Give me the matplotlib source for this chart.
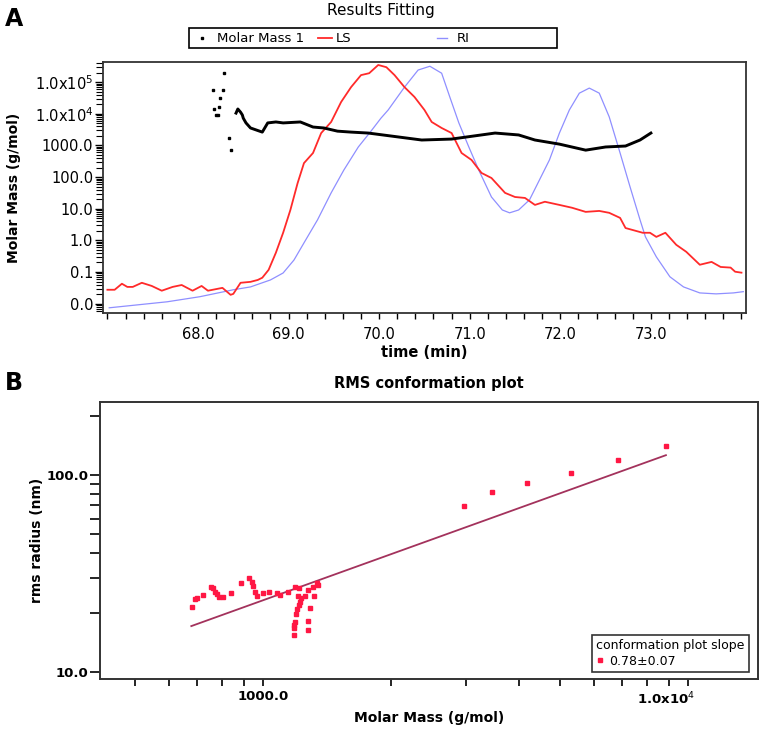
import numpy as np
import matplotlib
matplotlib.use("Agg")
import matplotlib.pyplot as plt
from matplotlib.lines import Line2D
from matplotlib.patches import Rectangle
from matplotlib.ticker import FixedLocator, FixedFormatter, LogLocator, MultipleLocator, NullFormatter
from matplotlib.transforms import ScaledTranslation

plt.rcParams["font.family"] = ["DejaVu Sans"]

# --- Panel A: results fitting (values are log10 of the plotted quantity) ---
ls_t = [67.0, 67.08, 67.16, 67.22, 67.28, 67.38, 67.49, 67.6, 67.72, 67.82, 67.94, 68.04,
        68.11, 68.27, 68.36, 68.39, 68.47, 68.58, 68.66, 68.71, 68.78, 68.86, 68.94, 69.02,
        69.1, 69.17, 69.27, 69.36, 69.47, 69.58, 69.69, 69.8, 69.89, 69.99, 70.08, 70.17,
        70.28, 70.39, 70.5, 70.58, 70.69, 70.8, 70.91, 71.02, 71.13, 71.24, 71.39, 71.5,
        71.61, 71.72, 71.83, 71.99, 72.13, 72.28, 72.43, 72.54, 72.66, 72.72, 72.91, 72.99,
        73.06, 73.16, 73.28, 73.39, 73.54, 73.67, 73.77, 73.88, 73.93, 74.0]
ls_log = [-1.56, -1.56, -1.37, -1.47, -1.47, -1.34, -1.44, -1.59, -1.47, -1.41, -1.59, -1.44,
          -1.59, -1.50, -1.72, -1.69, -1.34, -1.31, -1.25, -1.18, -0.93, -0.39, 0.24, 0.96,
          1.81, 2.44, 2.76, 3.39, 3.74, 4.37, 4.84, 5.22, 5.28, 5.54, 5.47, 5.22,
          4.84, 4.53, 4.12, 3.74, 3.55, 3.39, 2.76, 2.54, 2.13, 1.97, 1.5, 1.37,
          1.34, 1.12, 1.22, 1.12, 1.03, 0.9, 0.93, 0.87, 0.71, 0.39, 0.24, 0.24,
          0.11, 0.24, -0.14, -0.36, -0.77, -0.68, -0.84, -0.86, -0.99, -1.02]

ri_t = [67.02, 67.66, 68.02, 68.39, 68.58, 68.8, 68.94, 69.06, 69.17, 69.32, 69.47, 69.61,
        69.77, 69.91, 70.02, 70.1, 70.28, 70.43, 70.56, 70.69, 70.78, 70.88, 70.99, 71.1,
        71.24, 71.36, 71.44, 71.54, 71.66, 71.77, 71.88, 71.99, 72.1, 72.21, 72.32, 72.43,
        72.54, 72.66, 72.77, 72.88, 72.94, 73.06, 73.21, 73.36, 73.54, 73.72, 73.91, 74.02]
ri_log = [-2.13, -1.94, -1.78, -1.56, -1.47, -1.25, -1.03, -0.62, -0.08, 0.65, 1.5, 2.22,
          2.95, 3.45, 3.86, 4.12, 4.84, 5.38, 5.5, 5.28, 4.53, 3.71, 2.95, 2.22,
          1.37, 0.96, 0.87, 0.96, 1.28, 1.91, 2.54, 3.39, 4.12, 4.65, 4.81, 4.65,
          3.9, 2.76, 1.69, 0.65, 0.11, -0.52, -1.15, -1.47, -1.66, -1.69, -1.66, -1.62]

mm_t = [68.42, 68.44, 68.47, 68.49, 68.50, 68.53, 68.58, 68.71, 68.77, 68.86, 68.94, 69.13,
        69.27, 69.39, 69.54, 69.69, 69.88, 70.47, 70.8, 71.28, 71.54, 71.72, 71.99, 72.28,
        72.5, 72.72, 72.88, 73.0]
mm_log = [4.02, 4.15, 4.05, 3.96, 3.86, 3.71, 3.55, 3.42, 3.71, 3.74, 3.71, 3.74,
          3.58, 3.55, 3.45, 3.42, 3.39, 3.17, 3.2, 3.39, 3.33, 3.17, 3.04, 2.85,
          2.95, 2.98, 3.17, 3.39]
mm_pts_t = [68.29, 68.17, 68.28, 68.24, 68.23, 68.18, 68.20, 68.22, 68.34, 68.37]
mm_pts_log = [5.28, 4.75, 4.75, 4.5, 4.21, 4.15, 3.96, 3.96, 3.23, 2.85]

a_yticks = [0.01, 0.1, 1, 10, 100, 1000, 1e4, 1e5]
a_ylabels = ["0.0", "0.1", "1.0", "10.0", "100.0", "1000.0", r"1.0x10$^4$", r"1.0x10$^5$"]
a_xticks = [68, 69, 70, 71, 72, 73]
a_xlabels = ["68.0", "69.0", "70.0", "71.0", "72.0", "73.0"]

# --- Panel B: RMS conformation plot ---
rms_m = [681, 692, 700, 722, 755, 763, 771, 780, 788, 805, 841, 888, 927, 942, 947, 958,
         968, 1000, 1033, 1079, 1096, 1145, 1190, 1215, 1208, 1228, 1222, 1215, 1202, 1196,
         1190, 1183, 1183, 1183, 1255, 1276, 1312, 1340, 1347, 1318, 1290, 1276, 1276,
         2972, 3460, 4180, 5310, 6840, 8870]
rms_r = [21.4, 23.5, 23.8, 24.6, 27.0, 26.7, 25.5, 24.9, 24.0, 24.0, 25.2, 28.3, 30.0, 28.6,
         27.3, 25.5, 24.3, 25.2, 25.5, 25.2, 24.6, 25.5, 27.0, 26.7, 24.3, 23.8, 22.6, 21.9,
         20.9, 19.7, 17.9, 17.3, 16.7, 15.4, 24.3, 26.1, 27.0, 28.3, 27.7, 24.3, 21.1, 18.2,
         16.3, 69.7, 82.0, 91.0, 102.0, 119.0, 140.0]
fit_m = [678, 8870]
fit_r = [17.1, 126.0]
slope_label = "0.78\u00b10.07"

b_xticks = [1000, 10000]
b_xlabels = ["1000.0", r"1.0x10$^4$"]
b_yticks = [10, 100]
b_ylabels = ["10.0", "100.0"]

LS_RED = "#ff2a2a"
RI_BLUE = "#8f8fff"
PT_RED = "#ff1744"
FIT_COL = "#a3325c"

fig = plt.figure(figsize=(7.62, 7.31), dpi=100)

# ---------------- Panel A ----------------
ax1 = fig.add_axes([0.135, 0.572, 0.844, 0.343])
ax1.plot(ri_t, 10 ** np.array(ri_log), color=RI_BLUE, lw=0.9)
ax1.plot(ls_t, 10 ** np.array(ls_log), color=LS_RED, lw=1.3)
ax1.plot(mm_t, 10 ** np.array(mm_log), color="black", lw=2.1)
ax1.plot(mm_pts_t, 10 ** np.array(mm_pts_log), ls="none", marker="s", ms=2.0, color="black")
ax1.set_yscale("log")
ax1.set_xlim(66.95, 74.05)
ax1.set_ylim(10 ** -2.29, 10 ** 5.63)
ax1.yaxis.set_major_locator(FixedLocator(a_yticks))
ax1.yaxis.set_major_formatter(FixedFormatter(a_ylabels))
ax1.yaxis.set_minor_locator(LogLocator(base=10, subs=np.arange(2, 10), numticks=100))
ax1.yaxis.set_minor_formatter(NullFormatter())
ax1.xaxis.set_major_locator(FixedLocator(a_xticks))
ax1.xaxis.set_major_formatter(FixedFormatter(a_xlabels))
ax1.xaxis.set_minor_locator(MultipleLocator(0.2))
ax1.tick_params(axis="y", which="major", length=6, width=1, labelsize=10.5, pad=1)
ax1.tick_params(axis="y", which="minor", length=5, width=0.8)
ax1.tick_params(axis="x", which="both", length=4, width=1, labelsize=10.5, pad=6)
for s in ax1.spines.values():
    s.set_linewidth(1.3)
    s.set_color("#333333")
ax1.set_xlabel("time (min)", fontsize=10.5, fontweight="bold", labelpad=2)
ax1.set_ylabel("Molar Mass (g/mol)", fontsize=10, fontweight="bold", labelpad=10)
fig.text(0.5, 0.986, "Results Fitting", ha="center", va="center", fontsize=11)
fig.text(0.006, 0.974, "A", ha="left", va="center", fontsize=17, fontweight="bold")

# legend strip above panel A
W, H = 762.0, 731.0
fig.add_artist(Rectangle((189 / W, 1 - 48 / H), (557 - 189) / W, 20 / H, transform=fig.transFigure,
                         fill=False, edgecolor="black", lw=1.2))
ly = 1 - 38 / H
fig.add_artist(Line2D([202 / W], [ly], transform=fig.transFigure, marker="s", ms=2.0,
                      color="black", ls="none"))
fig.text(217 / W, ly, "Molar Mass 1", fontsize=9.5, va="center")
fig.add_artist(Line2D([318 / W, 332 / W], [ly, ly], transform=fig.transFigure, color=LS_RED, lw=1.3))
fig.text(336 / W, ly, "LS", fontsize=9.5, va="center")
fig.add_artist(Line2D([437 / W, 447 / W], [ly, ly], transform=fig.transFigure, color=RI_BLUE, lw=1))
fig.text(457 / W, ly, "RI", fontsize=9.5, va="center")

# ---------------- Panel B ----------------
ax2 = fig.add_axes([0.131, 0.071, 0.864, 0.379])
ax2.plot(fit_m, fit_r, color=FIT_COL, lw=1.3)
ax2.plot(rms_m, rms_r, ls="none", marker="s", ms=2.6, color=PT_RED, label=slope_label)
ax2.set_xscale("log")
ax2.set_yscale("log")
ax2.set_xlim(10 ** 2.616, 10 ** 4.165)
ax2.set_ylim(10 ** 0.964, 10 ** 2.37)
ax2.xaxis.set_major_locator(FixedLocator(b_xticks))
ax2.xaxis.set_major_formatter(FixedFormatter(b_xlabels))
ax2.yaxis.set_major_locator(FixedLocator(b_yticks))
ax2.yaxis.set_major_formatter(FixedFormatter(b_ylabels))
for axis in (ax2.xaxis, ax2.yaxis):
    axis.set_minor_locator(LogLocator(base=10, subs=np.arange(2, 10), numticks=100))
    axis.set_minor_formatter(NullFormatter())
ax2.tick_params(axis="y", which="both", length=7, width=1.2, labelsize=9.5, pad=1)
ax2.tick_params(axis="x", which="both", length=5, width=1.2, labelsize=9.5, pad=3)
for lab in ax2.get_xticklabels() + ax2.get_yticklabels():
    lab.set_fontweight("bold")
xt = ax2.xaxis.get_major_ticks()
xt[1].label1.set_transform(xt[1].label1.get_transform() +
                           ScaledTranslation(-0.22, 0, fig.dpi_scale_trans))
for s in ax2.spines.values():
    s.set_linewidth(1.4)
    s.set_color("#333333")
ax2.set_xlabel("Molar Mass (g/mol)", fontsize=10, fontweight="bold", labelpad=3)
ax2.set_ylabel("rms radius (nm)", fontsize=10, fontweight="bold", labelpad=2)
ax2.set_title("RMS conformation plot", fontsize=10.5, fontweight="bold", pad=10)
fig.text(0.006, 0.476, "B", ha="left", va="center", fontsize=17, fontweight="bold")

leg = ax2.legend(loc="lower right", bbox_to_anchor=(0.986, 0.025), title="conformation plot slope",
                 fontsize=9, title_fontsize=9, fancybox=False, edgecolor="#333333", framealpha=1,
                 handlelength=0.6, handletextpad=0.4, borderaxespad=0, markerscale=1.3,
                 borderpad=0.35, labelspacing=0.2)
leg._legend_box.align = "left"
leg.get_frame().set_linewidth(1.2)

fig.savefig("out.png", dpi=100)
